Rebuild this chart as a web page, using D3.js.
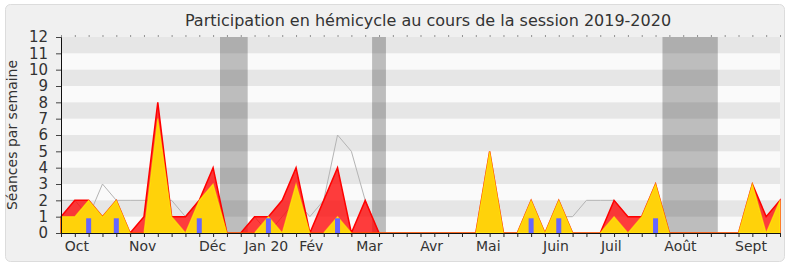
<!DOCTYPE html>
<html>
<head>
<meta charset="utf-8">
<script src="https://cdn.jsdelivr.net/npm/d3@7"></script>
<style>
  body { margin: 0; background: #ffffff; }
  svg { display: block; font-family: "DejaVu Sans", sans-serif; }
</style>
</head>
<body>
<script>
// width and height of the whole picture
var w = 790;
var h = 267;

// plot area
var plotLeft = 61, plotRight = 780, plotTop = 37, plotBottom = 233;

// weeks of the session, index 0 .. 52
var weeks = d3.range(0, 53);

// red area: présences par semaine
var presences = [1, 2, 2, 1, 2, 0, 1, 8, 1, 1, 2, 4, 0, 0, 1, 1, 2, 4, 0, 2, 4, 0, 2, 0,
                 0, 0, 0, 0, 0, 0, 0, 5, 0, 0, 2, 0, 2, 0, 0, 0, 2, 1, 1, 3, 0, 0, 0, 0,
                 0, 0, 3, 1, 2];

// yellow area: interventions
var interventions = [1, 1, 2, 1, 2, 0, 0, 7, 1, 0, 2, 3, 0, 0, 0, 1, 0, 3, 0, 0, 1, 0, 0, 0,
                     0, 0, 0, 0, 0, 0, 0, 5, 0, 0, 2, 0, 2, 0, 0, 0, 1, 0, 1, 3, 0, 0, 0, 0,
                     0, 0, 3, 0, 2];

// grey line: médiane
var mediane = [2, 2, 1, 3, 2, 2, 2, 2, 2, 1, 2, 2, 0, 0, 1, 0, 1, 2, 1, 2, 6, 5, 2, 0,
               0, 0, 0, 0, 0, 0, 0, 0, 0, 0, 0, 0, 1, 1, 2, 2, 2, 1, 1, 1, 0, 0, 0, 0,
               0, 0, 0, 0, 0];

// blue bars: questions orales
var questionWeeks = [2, 4, 10, 15, 20, 34, 36, 43];
var questionValues = [0.9, 0.9, 0.9, 0.9, 0.9, 0.9, 0.9, 0.9];

// vacances (grey bands), in week units
var vacStart = [11.5, 22.5, 43.5];
var vacEnd = [13.5, 23.5, 47.5];

// month labels and their position in week units
var months = ["Oct", "Nov", "Déc", "Jan 20", "Fév", "Mar", "Avr", "Mai", "Juin", "Juil", "Août", "Sept"];
var monthPos = [1.15, 5.9, 10.96, 14.85, 18.1, 22.3, 26.8, 30.9, 35.8, 39.8, 44.8, 49.9];

var yTicks = d3.range(0, 13);

// scales
var x = d3.scaleLinear().domain([0, 52]).range([plotLeft, plotRight]);
var y = d3.scaleLinear().domain([0, 12]).range([plotBottom, plotTop]);

var svg = d3.select("body")
            .append("svg")
            .attr("width", w)
            .attr("height", h);

// frame
svg.append("rect")
   .attr("x", 5.5)
   .attr("y", 4.5)
   .attr("width", 779)
   .attr("height", 257)
   .attr("rx", 5)
   .attr("fill", "#f0f0f0")
   .attr("stroke", "#dcdcdc");

// title
svg.append("text")
   .attr("x", 428)
   .attr("y", 26)
   .attr("text-anchor", "middle")
   .attr("fill", "#333")
   .style("font-size", "16px")
   .text("Participation en hémicycle au cours de la session 2019-2020");

// plot background
svg.append("rect")
   .attr("x", x(0))
   .attr("y", y(12))
   .attr("width", x(52) - x(0))
   .attr("height", y(0) - y(12))
   .attr("fill", "#fafafa");

// vacation bands
svg.selectAll(".vac")
   .data(vacStart)
   .enter().append("rect")
   .attr("class", "vac")
   .attr("x", d => x(d))
   .attr("y", y(12))
   .attr("width", (d, i) => x(vacEnd[i]) - x(d))
   .attr("height", y(0) - y(12))
   .attr("fill", "#bdbdbd");

// horizontal stripes, one of two
svg.selectAll(".stripe")
   .data(yTicks.filter(d => d % 2 == 1))
   .enter().append("rect")
   .attr("class", "stripe")
   .attr("x", x(0))
   .attr("y", d => y(d + 1))
   .attr("width", x(52) - x(0))
   .attr("height", d => y(d) - y(d + 1))
   .attr("fill", "rgba(0,0,0,0.08)");

// médiane line
var line = d3.line()
             .x(d => x(d))
             .y(d => y(mediane[d]));

svg.append("path")
   .datum(weeks)
   .attr("fill", "none")
   .attr("stroke", "#b4b4b4")
   .attr("stroke-width", 1)
   .attr("d", line);

// red area
var areaRed = d3.area()
                .x(d => x(d))
                .y0(y(0))
                .y1(d => y(presences[d]));

svg.append("path")
   .datum(weeks)
   .attr("fill", "rgba(255,0,0,0.76)")
   .attr("stroke", "#ff0000")
   .attr("stroke-width", 1.5)
   .attr("d", areaRed);

// yellow area
var areaYellow = d3.area()
                   .x(d => x(d))
                   .y0(y(0))
                   .y1(d => y(interventions[d]));

svg.append("path")
   .datum(weeks)
   .attr("fill", "#ffd20a")
   .attr("stroke", "rgba(255,255,0,0.55)")
   .attr("stroke-width", 1.2)
   .attr("d", areaYellow);

// blue bars
svg.selectAll(".q")
   .data(questionWeeks)
   .enter().append("rect")
   .attr("class", "q")
   .attr("x", d => x(d) - 2.5)
   .attr("y", (d, i) => y(questionValues[i]))
   .attr("width", 5)
   .attr("height", (d, i) => y(0) - y(questionValues[i]))
   .attr("fill", "#6666ff");

// bottom axis: one tick a week
var xAxis = svg.append("g")
   .attr("transform", "translate(0," + y(0) + ")")
   .call(d3.axisBottom(x).tickValues(weeks).tickSize(4).tickFormat(""));
xAxis.select(".domain").attr("stroke", "#111");
xAxis.selectAll(".tick line").attr("stroke", "#222");

// top dotted ticks
svg.append("g")
   .attr("transform", "translate(0," + (y(12) - 0.5) + ")")
   .call(d3.axisTop(x).tickValues(weeks).tickSize(1).tickFormat(""))
   .call(g => g.select(".domain").remove())
   .selectAll(".tick line").attr("stroke", "#333");

// month labels
svg.selectAll(".month")
   .data(months)
   .enter().append("text")
   .attr("class", "month")
   .attr("x", (d, i) => x(monthPos[i]))
   .attr("y", 251)
   .attr("text-anchor", "middle")
   .attr("fill", "#333")
   .style("font-size", "14px")
   .text(d => d);

// left axis
var yAxis = svg.append("g")
   .attr("transform", "translate(" + x(0) + ",0)")
   .call(d3.axisLeft(y).tickValues(yTicks).tickSize(5).tickPadding(8));
yAxis.select(".domain").attr("stroke", "#111");
yAxis.selectAll(".tick line").attr("stroke", "#444");
yAxis.selectAll("text")
     .attr("fill", "#333")
     .style("font-size", "15px")
     .style("font-family", "DejaVu Sans, sans-serif");

// y label
svg.append("text")
   .attr("transform", "translate(17," + ((y(0) + y(12)) / 2) + ") rotate(-90)")
   .attr("text-anchor", "middle")
   .attr("fill", "#333")
   .style("font-size", "14px")
   .text("Séances par semaine");
</script>
</body>
</html>
